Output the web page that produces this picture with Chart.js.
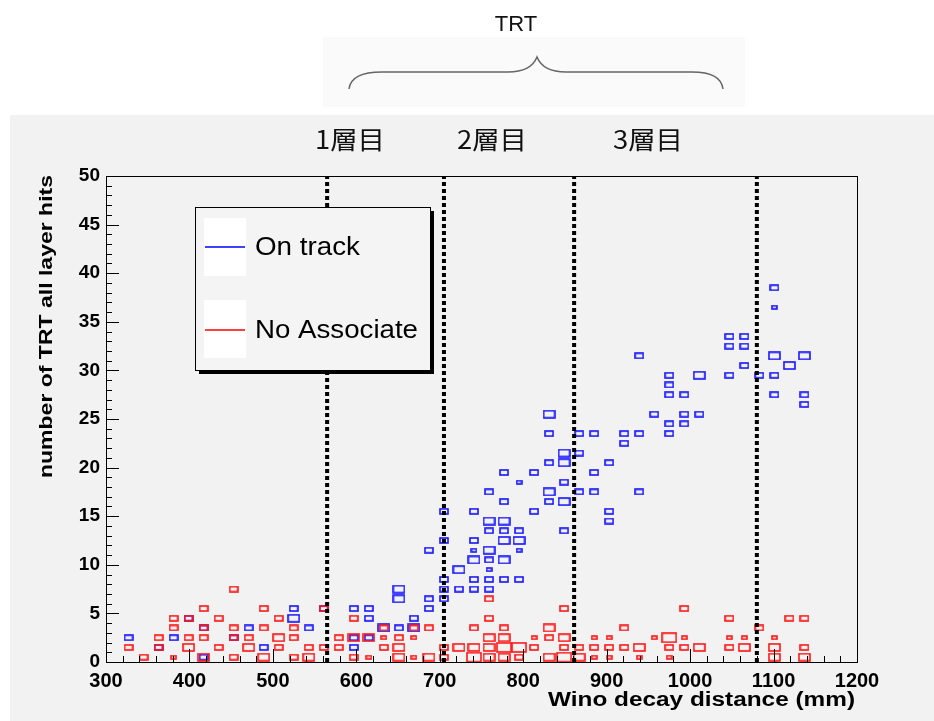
<!DOCTYPE html>
<html>
<head>
<meta charset="utf-8">
<script src="https://cdn.jsdelivr.net/npm/chart.js@4.4.1/dist/chart.umd.min.js"></script>
<style>
  html, body { margin: 0; padding: 0; background: #fff; }
  #trtChart { display: block; }
</style>
</head>
<body>
<canvas id="trtChart" width="934" height="721"></canvas>
<script>
// bin centres (mm), hits and box weight
const onTrackX = [1101,1101,1065,1065,1101,1137,1065,1119,1083,1101,1101,1137,1137,
  1047,1047,939,975,1011,1047,975,975,993,957,993,1011,975,993,
  867,885,921,939,975,921,867,903,885,867,885,939,903,903,
  831,831,849,831,849,777,813,795,849,759,831,777,831,849,
  705,741,813,759,777,759,777,795,849,705,741,777,795,
  687,741,759,795,741,759,777,723,759,705,741,759,777,795,
  651,705,723,741,759,651,687,705,687,597,615,615,669,633,651,669,597,615,597,
  327,363,399,381,417,453,471,525,525,543,489,417,561];
const onTrackY = [38.5,36.5,33.5,32.5,31.5,31.5,30.5,30.5,29.5,29.5,27.5,27.5,26.5,
  33.5,32.5,31.5,29.5,29.5,29.5,28.5,27.5,27.5,25.5,25.5,25.5,24.5,24.5,
  23.5,23.5,23.5,23.5,23.5,22.5,21.5,20.5,19.5,17.5,17.5,17.5,15.5,14.5,
  25.5,23.5,21.5,20.5,20.5,19.5,19.5,18.5,18.5,17.5,17.5,16.5,16.5,16.5,
  15.5,15.5,15.5,14.5,14.5,13.5,13.5,13.5,13.5,12.5,12.5,12.5,12.5,
  11.5,11.5,11.5,11.5,10.5,10.5,10.5,9.5,9.5,8.5,8.5,8.5,8.5,8.5,
  7.5,7.5,7.5,7.5,7.5,6.5,6.5,6.5,5.5,5.5,5.5,4.5,4.5,3.5,3.5,3.5,2.5,2.5,1.5,
  2.5,1.5,4.5,2.5,3.5,2.5,3.5,5.5,4.5,3.5,1.5,0.5,5.5];
const onTrackW = [2,1,2,2,3,3,2,3,2,2,2,2,2,
  2,2,2,2,3,2,2,2,2,2,2,2,2,2,
  2,2,2,2,2,2,2,2,2,2,2,2,2,2,
  3,2,3,2,3,2,2,1,2,2,3,2,2,3,
  2,2,2,3,3,2,2,2,2,2,2,3,3,
  2,1,3,1,3,2,3,3,1,2,2,2,2,2,
  3,2,2,2,2,3,2,2,2,2,2,2,2,3,2,3,2,2,2,
  2,2,2,2,2,2,2,2,3,2,2,2,2];

const noAssocX = [597,615,651,669,687,705,741,759,777,795,831,849,867,885,903,939,975,1101,1137,
  579,633,651,705,723,741,759,777,795,813,849,867,885,903,921,939,975,993,1011,1047,1065,1101,1137,
  579,597,615,633,651,669,759,777,813,831,849,885,903,957,975,993,1047,1065,1101,
  633,669,687,741,777,831,921,1083,
  597,759,1047,1119,1137,
  849,993,759,
  345,381,417,453,489,525,543,
  327,363,399,435,471,507,543,561,
  363,399,417,453,471,507,525,
  381,417,453,489,525,
  381,399,435,507,
  417,489,561,453];
const noAssocY = [0.5,0.5,0.5,0.5,0.5,0.5,0.5,0.5,0.5,0.5,0.5,0.5,0.5,0.5,0.5,0.5,0.5,0.5,0.5,
  1.5,1.5,1.5,1.5,1.5,1.5,1.5,1.5,1.5,1.5,1.5,1.5,1.5,1.5,1.5,1.5,1.5,1.5,1.5,1.5,1.5,1.5,1.5,
  2.5,2.5,2.5,2.5,2.5,2.5,2.5,2.5,2.5,2.5,2.5,2.5,2.5,2.5,2.5,2.5,2.5,2.5,2.5,
  3.5,3.5,3.5,3.5,3.5,3.5,3.5,3.5,
  4.5,4.5,4.5,4.5,4.5,
  5.5,5.5,6.5,
  0.5,0.5,0.5,0.5,0.5,0.5,0.5,
  1.5,1.5,1.5,1.5,1.5,1.5,1.5,1.5,
  2.5,2.5,2.5,2.5,2.5,2.5,2.5,
  3.5,3.5,3.5,3.5,3.5,
  4.5,4.5,4.5,4.5,
  5.5,5.5,5.5,7.5];
const noAssocW = [2,1,3,1,3,2,4,3,3,2,3,4,3,1,1,1,1,3,3,
  2,2,3,2,3,3,3,4,4,2,2,2,2,2,2,3,2,2,3,2,3,3,2,
  2,3,3,1,2,1,3,3,1,2,3,1,1,1,4,1,1,1,1,
  2,2,2,2,2,3,2,2,
  2,2,2,2,2,
  2,2,2,
  2,1,3,2,3,2,3,
  2,2,3,2,3,2,2,2,
  2,2,2,2,2,3,2,
  2,2,2,2,2,
  2,2,2,2,
  2,2,2,2];

const layerEdges = [565, 705, 861, 1080];
const layerNames = ['1層目', '2層目', '3層目'];
const binWidth = 18;

const boxCache = {};
function boxStyle(ctx, color) {
  const chart = ctx.chart;
  const raw = ctx.raw || {};
  const xs = chart.scales.x, ys = chart.scales.y;
  let bw = 15, bh = 9.7;
  if (xs && ys) {
    bw = Math.abs(xs.getPixelForValue(300 + binWidth) - xs.getPixelForValue(300));
    bh = Math.abs(ys.getPixelForValue(0) - ys.getPixelForValue(1));
  }
  const f = 0.18 + 0.18 * (raw.w || 2);
  const W = Math.max(3, Math.round(bw * f)), H = Math.max(2, Math.round(bh * f));
  const key = color + W + 'x' + H;
  if (!boxCache[key]) {
    const cv = document.createElement('canvas');
    cv.width = W + 2; cv.height = H + 2;
    const g = cv.getContext('2d');
    g.strokeStyle = color;
    g.lineWidth = 1.6;
    g.strokeRect(1, 1, W, H);
    boxCache[key] = cv;
  }
  return boxCache[key];
}

// text squeezed/stretched to the width it has in the picture
function stretchText(c, text, x, y, width, rot) {
  const w = c.measureText(text).width;
  c.save();
  c.translate(x, y);
  if (rot) c.rotate(rot);
  c.scale(width / w, 1);
  c.textAlign = 'left';
  c.textBaseline = 'middle';
  c.fillText(text, 0, 0);
  c.restore();
}

const tickFont = { family: '"Liberation Sans", Arial, sans-serif', size: 20, weight: 'bold' };

const decor = {
  id: 'decor',
  beforeDraw(chart) {
    const c = chart.ctx;
    c.save();
    c.fillStyle = '#ffffff';
    c.fillRect(0, 0, chart.width, chart.height);
    c.fillStyle = '#fafafa';
    c.fillRect(323, 37, 422, 70);
    c.fillStyle = '#f2f2f2';
    c.fillRect(10, 115, chart.width - 10, chart.height - 115);
    c.restore();
  },
  afterDraw(chart) {
    const c = chart.ctx;
    const a = chart.chartArea;
    const xs = chart.scales.x, ys = chart.scales.y;
    c.save();
    // frame and inward ticks
    c.strokeStyle = '#000';
    c.lineWidth = 1;
    c.strokeRect(a.left + 0.5, a.top + 0.5, a.right - a.left, a.bottom - a.top);
    c.beginPath();
    for (let v = 300; v <= 1200; v += 20) {
      const px = Math.round(xs.getPixelForValue(v)) + 0.5;
      const len = v % 100 === 0 ? 13 : 6;
      c.moveTo(px, a.bottom); c.lineTo(px, a.bottom - len);
    }
    for (let v = 0; v <= 50; v += 1) {
      const py = Math.round(ys.getPixelForValue(v)) + 0.5;
      const len = v % 5 === 0 ? 13 : 6;
      c.moveTo(a.left, py); c.lineTo(a.left + len, py);
    }
    c.stroke();

    // axis titles
    c.fillStyle = '#000';
    c.font = 'bold 19px "Liberation Sans", Arial, sans-serif';
    stretchText(c, 'number of TRT all layer hits', 47, 478, 303, -Math.PI / 2);
    c.font = 'bold 20px "Liberation Sans", Arial, sans-serif';
    stretchText(c, 'Wino decay distance (mm)', 548, 700, 307);

    // TRT brace
    c.fillStyle = '#111';
    c.font = '22px "Liberation Sans", Arial, sans-serif';
    c.textAlign = 'center';
    c.textBaseline = 'middle';
    c.fillText('TRT', 516, 25);
    c.strokeStyle = '#666';
    c.lineWidth = 1.5;
    c.beginPath();
    c.moveTo(349, 89);
    c.quadraticCurveTo(351, 72, 382, 72);
    c.lineTo(508, 72);
    c.quadraticCurveTo(531, 72, 537, 57);
    c.quadraticCurveTo(543, 72, 566, 72);
    c.lineTo(692, 72);
    c.quadraticCurveTo(721, 72, 723, 89);
    c.stroke();

    // layer labels
    c.fillStyle = '#111';
    c.font = '25px "Noto Sans CJK JP", sans-serif';
    const labelX = [315, 457, 613];
    layerNames.forEach((t, i) => stretchText(c, t, labelX[i], 139, 70));

    // legend
    const lx = 195, ly = 207, lw = 235, lh = 163;
    c.fillStyle = '#000';
    c.fillRect(lx + 4, ly + 4, lw, lh);
    c.fillStyle = '#f4f4f4';
    c.fillRect(lx, ly, lw, lh);
    c.strokeStyle = '#000';
    c.lineWidth = 1;
    c.strokeRect(lx + 0.5, ly + 0.5, lw, lh);
    c.fillStyle = '#ffffff';
    c.fillRect(204, 218, 42, 58);
    c.fillRect(204, 300, 42, 58);
    c.lineWidth = 1.5;
    c.strokeStyle = '#0000ff';
    c.beginPath(); c.moveTo(205, 247); c.lineTo(245, 247); c.stroke();
    c.strokeStyle = '#ff0000';
    c.beginPath(); c.moveTo(205, 330); c.lineTo(245, 330); c.stroke();
    c.fillStyle = '#000';
    c.font = '25px "Liberation Sans", Arial, sans-serif';
    stretchText(c, 'On track', 255, 248, 105);
    stretchText(c, 'No Associate', 255, 331, 163);
    c.restore();
  }
};

const layerSets = layerEdges.map(e => ({
  type: 'line',
  data: [{ x: e, y: 0 }, { x: e, y: 50 }],
  borderColor: '#000',
  borderWidth: 4,
  borderDash: [4, 3],
  pointRadius: 0,
  order: 0
}));

new Chart(document.getElementById('trtChart'), {
  type: 'scatter',
  data: {
    datasets: [
      {
        label: 'On track',
        data: onTrackX.map((x, i) => ({ x: x, y: onTrackY[i], w: onTrackW[i] })),
        pointStyle: ctx => boxStyle(ctx, '#1414ff'),
        pointRadius: 3,
        order: 2
      },
      {
        label: 'No Associate',
        data: noAssocX.map((x, i) => ({ x: x, y: noAssocY[i], w: noAssocW[i] })),
        pointStyle: ctx => boxStyle(ctx, '#ff1414'),
        pointRadius: 3,
        order: 1
      },
      ...layerSets
    ]
  },
  options: {
    responsive: false,
    animation: false,
    layout: { padding: { left: 0, right: 77, top: 176, bottom: 0 } },
    plugins: { legend: { display: false }, tooltip: { enabled: false } },
    scales: {
      x: {
        type: 'linear', min: 300, max: 1200,
        afterFit(s) { s.height = 59; },
        grid: { display: false, drawTicks: false },
        border: { display: false },
        ticks: { stepSize: 100, autoSkip: false, maxRotation: 0, padding: 7, color: '#000', font: tickFont,
                 callback: v => String(v) }
      },
      y: {
        type: 'linear', min: 0, max: 50,
        afterFit(s) { s.width = 106; },
        grid: { display: false, drawTicks: false },
        border: { display: false },
        ticks: { stepSize: 5, autoSkip: false, padding: 6, color: '#000',
                 font: { family: '"Liberation Sans", Arial, sans-serif', size: 19, weight: 'bold' },
                 callback: v => String(v) }
      }
    }
  },
  plugins: [decor]
});
</script>
</body>
</html>
